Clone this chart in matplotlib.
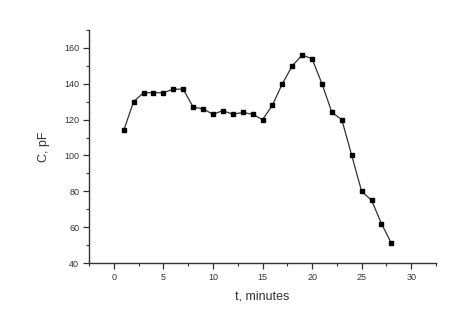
import matplotlib
matplotlib.use("Agg")
import matplotlib.pyplot as plt
from matplotlib.ticker import MultipleLocator

plt.rcParams['font.family'] = ['Liberation Sans', 'DejaVu Sans']

# time (minutes) and capacitance (pF)
t_min = [1, 2, 3, 4, 5, 6, 7, 8, 9, 10, 11, 12, 13, 14,
         15, 16, 17, 18, 19, 20, 21, 22, 23, 24, 25, 26, 27, 28]
c_pf = [114, 130, 135, 135, 135, 137, 137, 127, 126, 123, 125, 123, 124, 123,
        120, 128, 140, 150, 156, 154, 140, 124, 120, 100, 80, 75, 62, 51]

fig = plt.figure(figsize=(4.67, 3.33), dpi=100)
ax = fig.add_axes([0.1906, 0.2102, 0.743, 0.6997])

ax.plot(t_min, c_pf, color='#333333', linewidth=0.9, marker='s',
        markersize=3.2, markerfacecolor='black', markeredgecolor='black')

ax.set_xlim(-2.5, 32.5)
ax.set_ylim(40, 170)
ax.xaxis.set_major_locator(MultipleLocator(5))
ax.xaxis.set_minor_locator(MultipleLocator(2.5))
ax.yaxis.set_major_locator(MultipleLocator(20))
ax.yaxis.set_minor_locator(MultipleLocator(10))
ax.set_yticks(range(40, 161, 20))

for s in ['top', 'right']:
    ax.spines[s].set_visible(False)
for s in ['left', 'bottom']:
    ax.spines[s].set_linewidth(1.0)
    ax.spines[s].set_color('#333333')

ax.tick_params(which='major', direction='out', length=4, width=0.9,
               labelsize=6.5, colors='#333333', pad=3)
ax.tick_params(which='minor', direction='out', length=2.5, width=0.8, colors='#333333')

ax.set_xlabel('t, minutes', fontsize=9, color='#333333', labelpad=6)
ax.set_ylabel('C, pF', fontsize=9, color='#333333', labelpad=10)

fig.savefig('out.png', dpi=100)
